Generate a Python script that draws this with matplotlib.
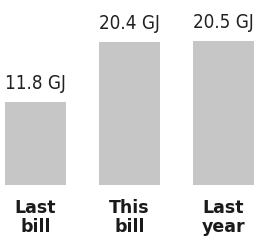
import matplotlib.pyplot as plt

categories = ["Last\nbill", "This\nbill", "Last\nyear"]
values = [11.8, 20.4, 20.5]
value_labels = ["11.8 GJ", "20.4 GJ", "20.5 GJ"]

fig = plt.figure(figsize=(2.57, 2.40), dpi=100)
ax = fig.add_axes([0, 0, 1, 1])

x = range(len(categories))
bars = ax.bar(x, values, width=0.65, color="#c6c6c6", edgecolor="none")

for bar, label in zip(bars, value_labels):
    ax.annotate(label, (bar.get_x() + bar.get_width() / 2, bar.get_height()),
                xytext=(0, 6.5), textcoords="offset points", ha="center", va="bottom",
                fontsize=13.5, color="#222222", fontstretch="condensed",
                family=["DejaVu Sans"])

for xi, cat in zip(x, categories):
    ax.text(xi, -2.0, cat, ha="center", va="top", fontsize=12.5,
            fontweight="bold", color="#1a1a1a", linespacing=1.05)

ax.set_xlim(-0.378, 2.356)
ax.set_ylim(-7.85, 26.4)
ax.axis("off")

fig.savefig("out.png", dpi=100, facecolor="white")
